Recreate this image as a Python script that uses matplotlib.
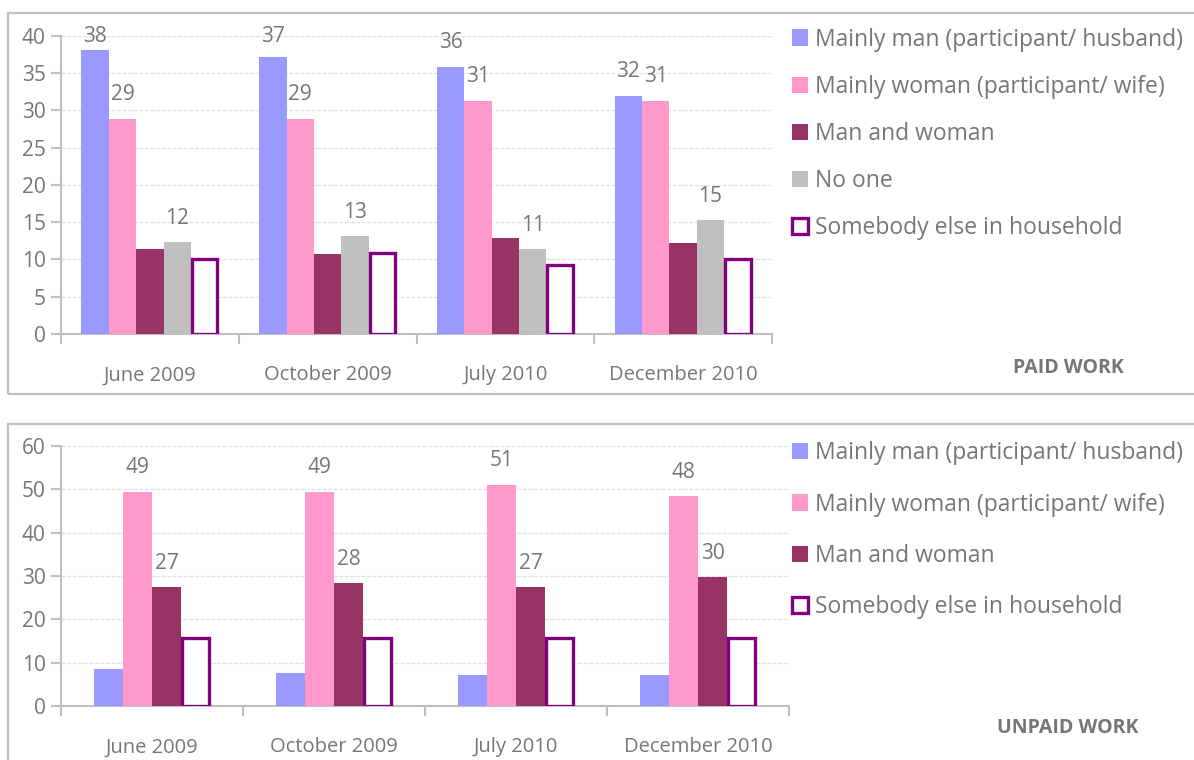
import matplotlib
matplotlib.use("Agg")
import matplotlib.pyplot as plt
from matplotlib.patches import Patch, Rectangle
import numpy as np

plt.rcParams["font.family"] = ["Open Sans", "DejaVu Sans"]

categories = ["June 2009", "October 2009", "July 2010", "December 2010"]

paid_names = ["Mainly man (participant/ husband)", "Mainly woman (participant/ wife)",
              "Man and woman", "No one", "Somebody else in household"]
paid_man = [38.1, 37.2, 35.9, 32.0]
paid_woman = [28.9, 28.9, 31.3, 31.3]
paid_both = [11.4, 10.8, 12.9, 12.2]
paid_noone = [12.3, 13.1, 11.4, 15.3]
paid_else = [10.1, 10.9, 9.3, 10.1]
paid_labelled = [True, True, False, True, False]

unpaid_names = ["Mainly man (participant/ husband)", "Mainly woman (participant/ wife)",
                "Man and woman", "Somebody else in household"]
unpaid_man = [8.5, 7.6, 7.1, 7.1]
unpaid_woman = [49.4, 49.4, 51.0, 48.4]
unpaid_both = [27.4, 28.3, 27.4, 29.7]
unpaid_else = [15.6, 15.6, 15.6, 15.6]
unpaid_labelled = [False, True, True, False]

BLUE = "#9999ff"
PINK = "#ff99cc"
MAROON = "#993366"
GREY = "#c0c0c0"
PURPLE = "#800080"
TEXT = "#767676"
AXIS = "#bfbfbf"

W, H = 1194, 760


def style(name):
    if name == "Somebody else in household":
        return dict(facecolor="white", edgecolor=PURPLE, linewidth=2.4)
    colors = {"Mainly man (participant/ husband)": BLUE,
              "Mainly woman (participant/ wife)": PINK,
              "Man and woman": MAROON, "No one": GREY}
    return dict(facecolor=colors[name], edgecolor="none", linewidth=0)


def panel(fig, rect, names, series, labelled, ymax, ystep, bar_w, legend_top, row_gap, title, title_y):
    ax = fig.add_axes(rect)
    x = np.arange(len(categories))
    n = len(series)
    px_per_unit = rect[3] * H / ymax
    off = 24 / px_per_unit
    for i, (name, vals) in enumerate(zip(names, series)):
        pos = x + (i - (n - 1) / 2) * bar_w
        ax.bar(pos, vals, width=bar_w * (0.93 if "Somebody" in name else 1.0),
               label=name, zorder=3, **style(name))
        if labelled[i]:
            # data labels sit above the bar but stay inside the plot area
            for p, v in zip(pos, vals):
                ax.text(p, min(v + off, ymax - 1 / px_per_unit), f"{v:.0f}",
                        ha="center", va="center", fontsize=15, color=TEXT, zorder=4)

    ax.set_xlim(-0.5, len(categories) - 0.5)
    ax.set_ylim(0, ymax)
    ax.set_yticks(np.arange(0, ymax + 0.1, ystep))
    ax.set_xticks(x)
    ax.set_xticklabels(categories)
    ax.set_xticks(np.arange(-0.5, len(categories)), minor=True)
    ax.tick_params(axis="x", which="major", length=0, pad=22.5, labelsize=14.5, labelcolor=TEXT)
    ax.tick_params(axis="x", which="minor", length=7, width=1.5, color=AXIS)
    ax.tick_params(axis="y", length=7, width=1.5, color=AXIS, pad=4, labelsize=15, labelcolor=TEXT)
    for s in ("top", "right"):
        ax.spines[s].set_visible(False)
    for s in ("left", "bottom"):
        ax.spines[s].set_color(AXIS)
        ax.spines[s].set_linewidth(1.5)
    ax.yaxis.grid(True, color="#e2e2e2", linewidth=1, linestyle=(0, (3, 1)), zorder=0)
    ax.set_axisbelow(True)

    handles = [Patch(label=nm, **style(nm)) for nm in names]
    leg = fig.legend(handles=handles, loc="upper left",
                     bbox_to_anchor=(792 / W, 1 - legend_top / H), frameon=False,
                     fontsize=16.5, handlelength=0.7, handleheight=0.7,
                     handletextpad=0.3, labelspacing=row_gap, borderaxespad=0,
                     borderpad=0)
    for t in leg.get_texts():
        t.set_color(TEXT)
    fig.text(1068 / W, 1 - title_y / H, title, ha="center", va="center",
             fontsize=14, fontweight="bold", color=TEXT)
    return ax


fig = plt.figure(figsize=(W / 100, H / 100), dpi=100)

# grey frames round each panel
fig.add_artist(Rectangle((8 / W, 1 - 394 / H), 1.2, (394 - 13) / H, transform=fig.transFigure,
                         fill=False, edgecolor=AXIS, linewidth=1.6, clip_on=False))
fig.add_artist(Rectangle((8 / W, -0.2), 1.2, 0.2 + (760 - 424) / H, transform=fig.transFigure,
                         fill=False, edgecolor=AXIS, linewidth=1.6, clip_on=False))

panel(fig, [61 / W, 1 - 334 / H, (772 - 61) / W, (334 - 36) / H],
      paid_names, [paid_man, paid_woman, paid_both, paid_noone, paid_else],
      paid_labelled, 40, 5, 0.154, 27.5, 1.01, "PAID WORK", 368)

panel(fig, [61 / W, 1 - 706 / H, (789 - 61) / W, (706 - 446) / H],
      unpaid_names, [unpaid_man, unpaid_woman, unpaid_both, unpaid_else],
      unpaid_labelled, 60, 10, 0.16, 441.5, 1.18, "UNPAID WORK", 728)

fig.savefig("out.png", dpi=100)
